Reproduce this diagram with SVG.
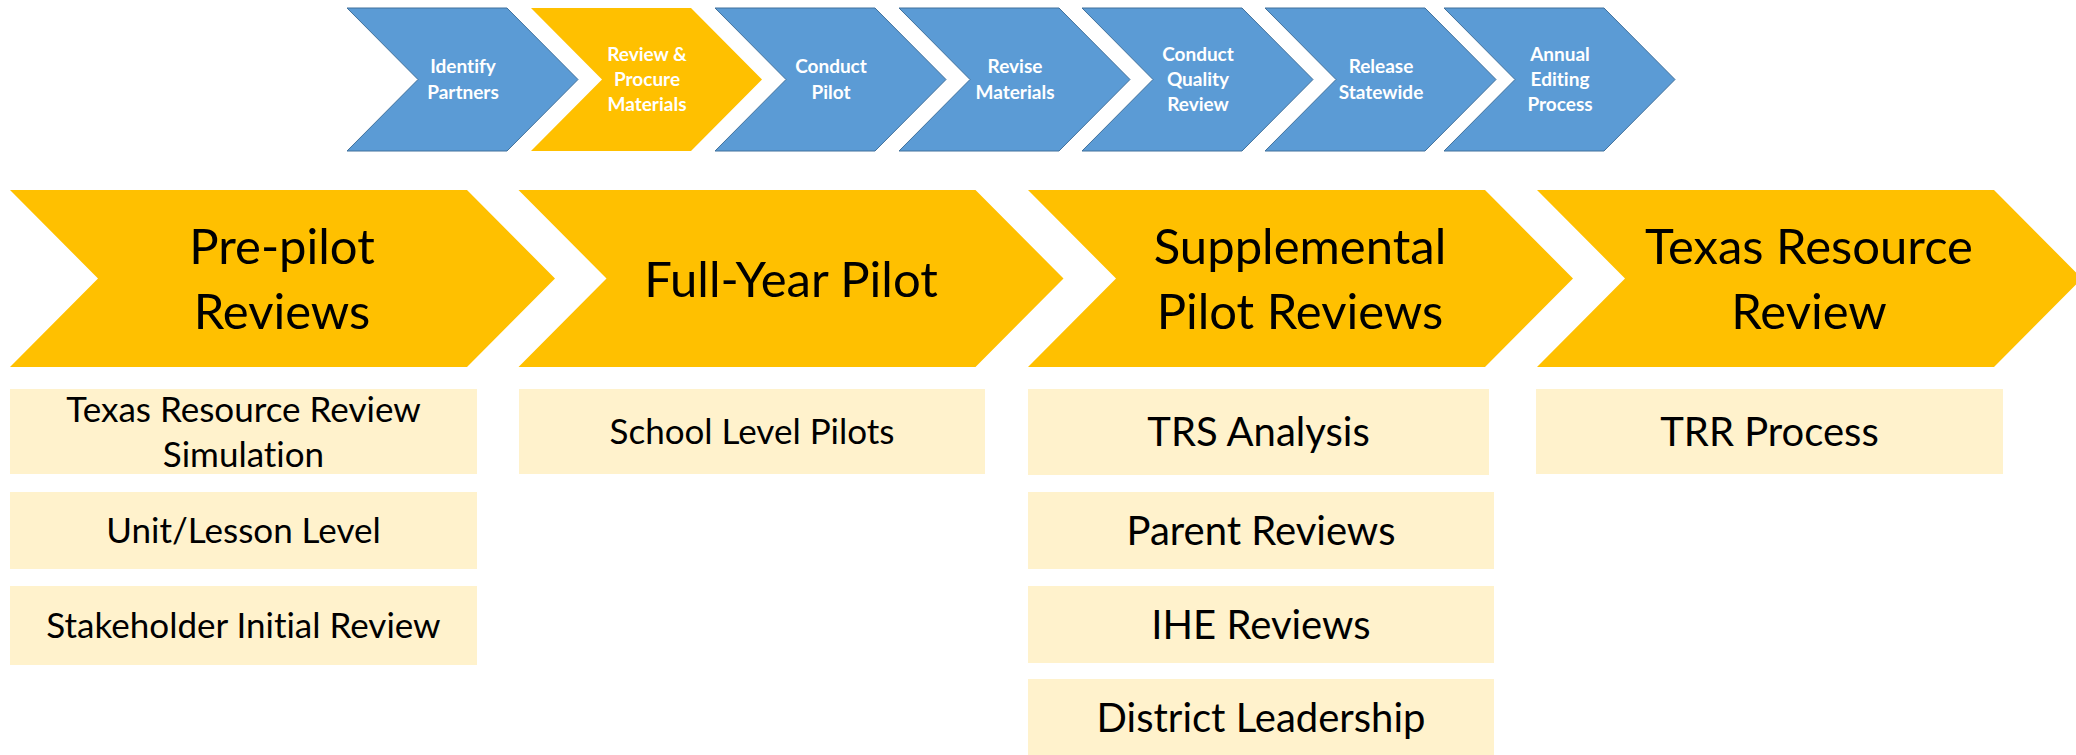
<svg xmlns="http://www.w3.org/2000/svg" width="2076" height="755" viewBox="0 0 2076 755">
<style>
.blue{fill:#5B9BD5;stroke:#41719C;stroke-width:1}
.gold{fill:#FFC000}
.box{fill:#FFF2CC}
text{font-variant-ligatures:none;font-feature-settings:"liga" 0,"clig" 0}
.st{font-family:Lato,"Liberation Sans",sans-serif;font-weight:bold;font-size:19px;fill:#FFFFFF;text-anchor:middle}
.big{font-family:Lato,"Liberation Sans",sans-serif;font-size:49px;fill:#000;text-anchor:middle}
.bt{font-family:Lato,"Liberation Sans",sans-serif;font-size:35px;fill:#000;text-anchor:middle}
.bt2{font-family:Lato,"Liberation Sans",sans-serif;font-size:40px;fill:#000;text-anchor:middle}
</style>
<rect width="2076" height="755" fill="#FFFFFF"/>
<g id="steps">
<g id="step-identify"><polygon class="blue" points="347,8 507,8 578,79.5 507,151 347,151 418,79.5"/><text class="st" x="463" y="73">Identify</text><text class="st" x="463" y="99">Partners</text></g>
<g id="step-review"><polygon class="gold" points="531,8 691,8 762,79.5 691,151 531,151 602,79.5"/><text class="st" x="647" y="61">Review &amp;</text><text class="st" x="647" y="86">Procure</text><text class="st" x="647" y="111">Materials</text></g>
<g id="step-pilot"><polygon class="blue" points="715,8 875,8 946,79.5 875,151 715,151 786,79.5"/><text class="st" x="831" y="73">Conduct</text><text class="st" x="831" y="99">Pilot</text></g>
<g id="step-revise"><polygon class="blue" points="899,8 1059,8 1130,79.5 1059,151 899,151 970,79.5"/><text class="st" x="1015" y="73">Revise</text><text class="st" x="1015" y="99">Materials</text></g>
<g id="step-quality"><polygon class="blue" points="1082,8 1242,8 1313,79.5 1242,151 1082,151 1153,79.5"/><text class="st" x="1198" y="61">Conduct</text><text class="st" x="1198" y="86">Quality</text><text class="st" x="1198" y="111">Review</text></g>
<g id="step-release"><polygon class="blue" points="1265,8 1425,8 1496,79.5 1425,151 1265,151 1336,79.5"/><text class="st" x="1381" y="73">Release</text><text class="st" x="1381" y="99">Statewide</text></g>
<g id="step-annual"><polygon class="blue" points="1444,8 1604,8 1675,79.5 1604,151 1444,151 1515,79.5"/><text class="st" x="1560" y="61">Annual</text><text class="st" x="1560" y="86">Editing</text><text class="st" x="1560" y="111">Process</text></g>
</g>
<g id="phases">
<g id="phase-prepilot"><polygon class="gold" points="10,190 467,190 555,278.5 467,367 10,367 98,278.5"/><text class="big" x="282" y="264">Pre-pilot</text><text class="big" x="282" y="329">Reviews</text></g>
<g id="phase-fullyear"><polygon class="gold" points="518.5,190 975.5,190 1063.5,278.5 975.5,367 518.5,367 606.5,278.5"/><text class="big" x="791" y="296.5">Full-Year Pilot</text></g>
<g id="phase-supplemental"><polygon class="gold" points="1028,190 1485,190 1573,278.5 1485,367 1028,367 1116,278.5"/><text class="big" x="1300" y="264">Supplemental</text><text class="big" x="1300" y="329">Pilot Reviews</text></g>
<g id="phase-trr"><polygon class="gold" points="1537,190 1994,190 2082,278.5 1994,367 1537,367 1625,278.5"/><text class="big" x="1809" y="264">Texas Resource</text><text class="big" x="1809" y="329">Review</text></g>
</g>
<g id="items">
<g id="item-trr-sim"><rect class="box" x="10" y="389" width="467" height="85"/><text class="bt" x="243.5" y="422">Texas Resource Review</text><text class="bt" x="243.5" y="467">Simulation</text></g>
<g id="item-unit"><rect class="box" x="10" y="492" width="467" height="77"/><text class="bt" x="243.5" y="543">Unit/Lesson Level</text></g>
<g id="item-stakeholder"><rect class="box" x="10" y="586" width="467" height="79"/><text class="bt" x="243.5" y="638">Stakeholder Initial Review</text></g>
<g id="item-school"><rect class="box" x="519" y="389" width="466" height="85"/><text class="bt" x="752" y="444">School Level Pilots</text></g>
<g id="item-trs"><rect class="box" x="1028" y="389" width="461" height="86"/><text class="bt2" x="1258.5" y="446">TRS Analysis</text></g>
<g id="item-parent"><rect class="box" x="1028" y="492" width="466" height="77"/><text class="bt2" x="1261" y="545">Parent Reviews</text></g>
<g id="item-ihe"><rect class="box" x="1028" y="586" width="466" height="77"/><text class="bt2" x="1261" y="639">IHE Reviews</text></g>
<g id="item-district"><rect class="box" x="1028" y="679" width="466" height="76"/><text class="bt2" x="1261" y="731.5">District Leadership</text></g>
<g id="item-trrprocess"><rect class="box" x="1536" y="389" width="467" height="85"/><text class="bt2" x="1769.5" y="446">TRR Process</text></g>
</g>
<g id="connectors"/>
</svg>
